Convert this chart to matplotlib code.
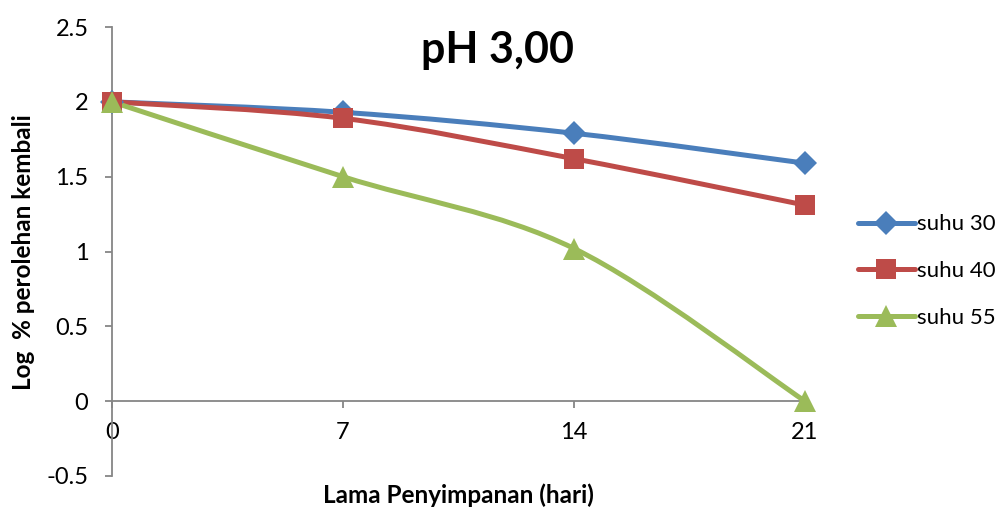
import numpy as np
import matplotlib
matplotlib.use("Agg")
import matplotlib.pyplot as plt
from matplotlib.path import Path
from matplotlib.patches import PathPatch
from matplotlib.lines import Line2D
from matplotlib.ticker import FuncFormatter

plt.rcParams['font.family'] = ['Lato', 'DejaVu Sans']

# data
hari = [0, 7, 14, 21]
suhu30 = [2.00, 1.93, 1.79, 1.59]
suhu40 = [2.00, 1.89, 1.62, 1.31]
suhu55 = [2.00, 1.50, 1.02, 0.00]
names = ["suhu 30", "suhu 40", "suhu 55"]
colors = ["#4A7EBB", "#BE4B48", "#9BBB59"]
markers = ["D", "s", "^"]
msizes = [12, 15, 16]


def smooth_path(x, y):
    # excel-like smoothed line: cubic bezier through the points
    pts = np.column_stack([x, y]).astype(float)
    n = len(pts)
    verts = [pts[0]]
    codes = [Path.MOVETO]
    for i in range(n - 1):
        p0 = pts[i - 1] if i > 0 else pts[i]
        p1 = pts[i]
        p2 = pts[i + 1]
        p3 = pts[i + 2] if i + 2 < n else pts[i + 1]
        c1 = p1 + (p2 - p0) / 6.0
        c2 = p2 - (p3 - p1) / 6.0
        verts += [c1, c2, p2]
        codes += [Path.CURVE4] * 3
    return Path(verts, codes)


fig = plt.figure(figsize=(10.05, 5.09), dpi=100)
ax = fig.add_axes([112 / 1005, 1 - 476 / 509, (805 - 112) / 1005, (476 - 27) / 509])

series = [suhu30, suhu40, suhu55]
handles = []
for vals, name, c, m, ms in zip(series, names, colors, markers, msizes):
    patch = PathPatch(smooth_path(hari, vals), facecolor="none", edgecolor=c,
                      lw=3.6, capstyle="round", joinstyle="round", zorder=3)
    ax.add_patch(patch)
    ax.plot(hari, vals, linestyle="none", marker=m, color=c, markersize=ms,
            markeredgewidth=0, zorder=4, clip_on=False)
    handles.append(Line2D([], [], color=c, lw=3.6, marker=m, markersize=ms,
                          markeredgewidth=0, solid_capstyle="round", label=name))

ax.set_xlim(0, 21)
ax.set_ylim(-0.5, 2.5)
ax.set_xticks(hari)
ax.set_yticks(np.arange(-0.5, 2.51, 0.5))
ax.yaxis.set_major_formatter(FuncFormatter(lambda v, p: "%g" % v))

for s in ["top", "right"]:
    ax.spines[s].set_visible(False)
ax.spines["bottom"].set_position(("data", 0))
for s in ["left", "bottom"]:
    ax.spines[s].set_color("#868686")
    ax.spines[s].set_linewidth(1.3)
ax.tick_params(axis="both", colors="#868686", width=1.3, length=5,
               labelcolor="black", labelsize=17)
ax.tick_params(axis="x", pad=10)
ax.tick_params(axis="y", pad=12)

fig.text(497 / 1005, 1 - 50 / 509, "pH 3,00", ha="center", va="center",
         fontsize=31, fontweight="bold")
fig.text(24 / 1005, 1 - 252 / 509, "Log  % perolehan kembali", ha="center",
         va="center", rotation=90, fontsize=17.5, fontweight="bold")
fig.text(458 / 1005, 1 - 495 / 509, "Lama Penyimpanan (hari)", ha="center",
         va="center", fontsize=17.5, fontweight="bold")

fig.legend(handles=handles, loc="center left", bbox_to_anchor=(858 / 1005, 1 - 271 / 509),
           frameon=False, fontsize=16, handlelength=2.55, handletextpad=0.1,
           labelspacing=1.2, borderaxespad=0, borderpad=0)

fig.savefig("out.png", dpi=100)
